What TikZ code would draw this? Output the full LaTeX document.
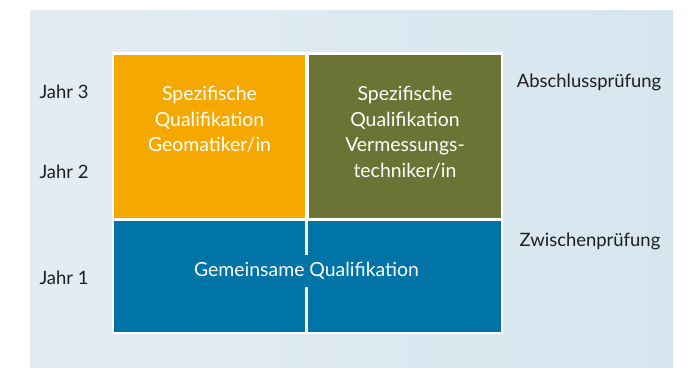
\documentclass[tikz,border=0pt]{standalone}
\usepackage{fontspec}
\setmainfont{Lato}
\definecolor{geoorange}{RGB}{245,168,0}
\definecolor{vermolive}{RGB}{107,115,53}
\definecolor{gemblue}{RGB}{0,115,167}
\definecolor{bgleft}{RGB}{228,236,243}
\definecolor{bgright}{RGB}{214,230,239}
\definecolor{labelgray}{RGB}{30,30,30}

\begin{document}
\begin{tikzpicture}[x=1bp,y=-1bp]
        \useasboundingbox (0,0) rectangle (690,367);
        \shade [left color=bgleft, right color=bgright] (30,10) rectangle (673,367);
        \fill [white] (112,52) rectangle (503,334);

        \begin{scope}[every node/.style={rectangle,inner sep=0pt,text=white,align=center,font=\fontsize{19.5}{25.7}\selectfont}]
            \node (G) [fill=geoorange, minimum width=191bp, minimum height=163bp] at (209.5,136.5) {};
            \node (V) [fill=vermolive, minimum width=192bp, minimum height=163bp] at (405,136.5) {};
            \node (Q) [fill=gemblue, minimum width=387bp, minimum height=111bp] at (307.5,276.5) {};
            \draw [white, line width=2.5bp] (306.5,221) -- (306.5,332);
            \node (GT) [anchor=north] at (209.5,86) {Spezifische\\Qualifikation\\Geomatiker/in};
            \node (VT) [anchor=north] at (405,86) {Spezifische\\Qualifikation\\Vermessungs-\\techniker/in};
            \node (QT) [fill=gemblue, inner ysep=7bp] at (306.5,271) {Gemeinsame Qualifikation};
        \end{scope}

        \begin{scope}[every node/.style={text=labelgray,font=\fontsize{18.5}{22}\selectfont}]
            \node (J3) at (64,92) {Jahr 3};
            \node (J2) at (64,172) {Jahr 2};
            \node (J1) at (64,278) {Jahr 1};
            \node (AP) at (589,82) {Abschlussprüfung};
            \node (ZP) at (590,241) {Zwischenprüfung};
        \end{scope}
    \end{tikzpicture}
\end{document}
